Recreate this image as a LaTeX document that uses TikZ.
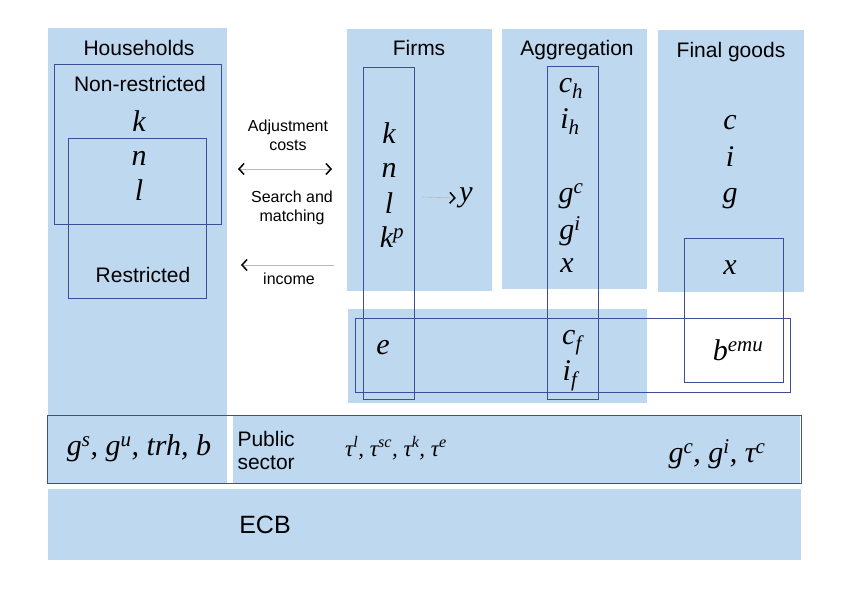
\documentclass[tikz,border=0pt]{standalone}
\usepackage{fontspec}
\setmainfont{Liberation Sans}
\newfontfamily\varserif{Liberation Serif}
\usetikzlibrary{arrows.meta}

\definecolor{panel}{RGB}{190,216,240}
\definecolor{frame}{RGB}{62,78,150}
\newcommand{\up}[1]{\textsuperscript{#1}}
\newcommand{\dn}[1]{\textsubscript{#1}}

\begin{document}
\begin{tikzpicture}[x=1pt, y=-1pt,
		frame/.style={draw=frame, line width=0.9pt},
		head/.style={font=\fontsize{21}{23}\selectfont},
		note/.style={font=\fontsize{16}{19}\selectfont, align=center},
		var/.style={font=\fontsize{30}{32}\selectfont\varserif\itshape},
		flow/.style={draw=gray!55, line width=0.6pt},
		barb/.tip={Straight Barb[length=5pt, width=11pt, line width=1.5pt, color=black]}]
			\useasboundingbox (0, 0) rectangle (850, 602);
			
			% blue panels
			\fill[panel] (48, 28) rectangle (227, 483);
			\fill[panel] (347, 29) rectangle (492, 291);
			\fill[panel] (502, 29) rectangle (647, 289);
			\fill[panel] (658, 30) rectangle (804, 292);
			\fill[panel] (348, 309) rectangle (647, 403);
			\fill[panel] (233, 415) rectangle (800, 483);
			\fill[panel] (48, 489) rectangle (801, 560);
			
			% framed groups
			\draw[frame] (54, 64) rectangle (221, 224);
			\draw[frame] (68, 138) rectangle (206, 298);
			\draw[frame] (363, 67) rectangle (414, 399);
			\draw[frame] (547, 66) rectangle (598, 399);
			\draw[frame] (684, 238) rectangle (783, 382);
			\draw[frame] (355, 318) rectangle (790, 392);
			\draw[frame] (47, 415) rectangle (801, 483);
			
			% households
			\node[head] (hh) at (139, 48) {Households};
			\node[head] (nr) at (140, 84) {Non-restricted};
			\node[var] (hk) at (139, 121) {k};
			\node[var] (hn) at (139, 158) {n};
			\node[var] (hl) at (139, 190) {l};
			\node[head] (re) at (143, 275) {Restricted};
			
			% links
			\node[note] (adj) at (288, 135) {Adjustment\\costs};
			\coordinate (adjL) at (238, 169);
			\coordinate (adjR) at (332, 169);
			\draw[flow, barb-barb] (adjL) -- (adjR);
			\node[note] (sm) at (292, 208) {Search and\\matching};
			\coordinate (incR) at (334, 265);
			\coordinate (incL) at (241, 265);
			\draw[flow, -barb] (incR) -- (incL);
			\node[note] (inc) at (289, 279) {income};
			
			% firms
			\node[head] (fi) at (419, 48) {Firms};
			\node[var] (fk) at (389, 133) {k};
			\node[var] (fn) at (389, 170) {n};
			\node[var] (fl) at (389, 203) {l};
			\node[var] (fkp) at (392, 237) {k\up{p}};
			\node[var] (fy) at (466, 198) {y};
			\coordinate (fyL) at (422, 197);
			\draw[flow, -barb] (fyL) -- (fy.west);
			\node[var] (fe) at (383, 348) {e};
			
			% aggregation
			\node[head] (ag) at (577, 50) {Aggregation};
			\node[var] (ach) at (571, 88) {c\dn{h}};
			\node[var] (aih) at (570, 122) {i\dn{h}};
			\node[var] (agc) at (571, 196) {g\up{c}};
			\node[var] (agi) at (570, 231) {g\up{i}};
			\node[var] (ax) at (567, 266) {x};
			\node[var] (acf) at (572, 343) {c\dn{f}};
			\node[var] (aif) at (570, 376) {i\dn{f}};
			
			% final goods
			\node[head] (fg) at (731, 52) {Final goods};
			\node[var] (gc) at (730, 123) {c};
			\node[var] (gi) at (730, 157) {i};
			\node[var] (gg) at (730, 199) {g};
			\node[var] (gx) at (730, 268) {x};
			\node[var] (gb) at (738, 350) {b\up{emu}};
			
			% public sector
			\node[var] (ps1) at (139, 448) {g\up{s}, g\up{u}, trh, b};
			\node[head, align=left, anchor=west] (ps) at (234, 450) {Public\\sector};
			\node[var, font=\fontsize{23}{25}\selectfont\varserif\itshape] (ps2) at (396, 448) {τ\up{l}, τ\up{sc}, τ\up{k}, τ\up{e}};
			\node[var] (ps3) at (717, 454) {g\up{c}, g\up{i}, τ\up{c}};
			
			% central bank
			\node[font=\fontsize{25}{27}\selectfont] (ecb) at (265, 525) {ECB};
		\end{tikzpicture}
\end{document}
